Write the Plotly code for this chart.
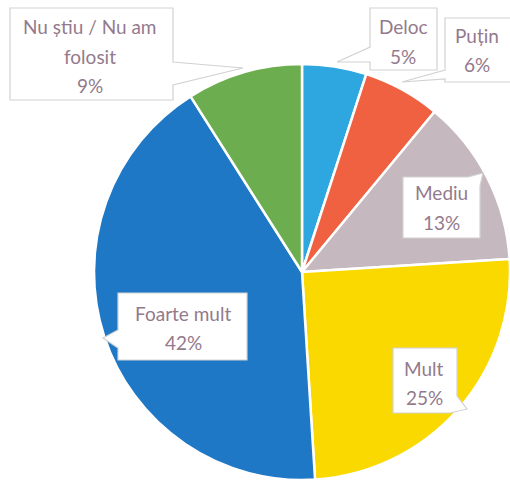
import plotly.graph_objects as go

W, H = 510, 484

categories = ["Deloc", "Puțin", "Mediu", "Mult", "Foarte mult", "Nu știu / Nu am folosit"]
values = [5, 6, 13, 25, 42, 9]
colors = ["#2ea6df", "#ef6140", "#c5b9bf", "#fad900", "#1f78c6", "#6cae4f"]
label_lines = [["Deloc", "5%"], ["Puțin", "6%"], ["Mediu", "13%"], ["Mult", "25%"],
               ["Foarte mult", "42%"], ["Nu știu / Nu am", "folosit", "9%"]]

# label layout (pixel positions): text center x, first line y
label_pos = [(403, 27), (477, 35), (441, 193), (424, 368), (183, 313), (90, 27)]
line_gap = 29

# callout outlines (pixel points)
callouts = [
    [(370, 8), (437, 8), (437, 70), (370, 70), (370, 62), (337, 62), (370, 47)],
    [(445, 18), (512, 18), (512, 82), (445, 82), (445, 79), (402, 82), (445, 70)],
    [(403, 177), (468, 177), (483, 173), (480, 186), (480, 238), (403, 238)],
    [(393, 348), (457, 348), (457, 396), (467, 409), (450, 413), (393, 413)],
    [(118, 293), (247, 293), (247, 360), (118, 360), (118, 348), (103, 338), (118, 330)],
    [(10, 8), (173, 8), (173, 62), (243, 68), (173, 85), (173, 100), (10, 100)],
]


def px(x, y):
    return x / W, 1 - y / H


fig = go.Figure(go.Pie(
    labels=categories,
    values=values,
    sort=False,
    direction="clockwise",
    rotation=0,
    marker=dict(colors=colors, line=dict(color="white", width=2.5)),
    textinfo="none",
    hoverinfo="label+percent",
    domain=dict(x=[94 / W, 1.0], y=[(H - 272 - 209) / H, (H - 272 + 209) / H]),
    showlegend=False,
))

shapes = []
for pts in callouts:
    path = "M " + " L ".join(f"{px(x, y)[0]:.5f},{px(x, y)[1]:.5f}" for x, y in pts) + " Z"
    shapes.append(dict(type="path", path=path, xref="paper", yref="paper",
                       fillcolor="white", line=dict(color="#d2d2d2", width=1.2), layer="above"))

annotations = []
for lines, (cx, cy) in zip(label_lines, label_pos):
    for i, t in enumerate(lines):
        x, y = px(cx, cy + i * line_gap)
        annotations.append(dict(text=t, x=x, y=y, xref="paper", yref="paper",
                                xanchor="center", yanchor="middle", showarrow=False,
                                font=dict(family="Lato", size=19, color="#937a8c")))

fig.update_layout(
    width=W, height=H,
    margin=dict(l=0, r=0, t=0, b=0),
    paper_bgcolor="white", plot_bgcolor="white",
    shapes=shapes, annotations=annotations,
)

fig.write_html("out.html", config={"displayModeBar": False},
               post_script="document.body.style.margin='0px';document.body.style.overflow='hidden';")
